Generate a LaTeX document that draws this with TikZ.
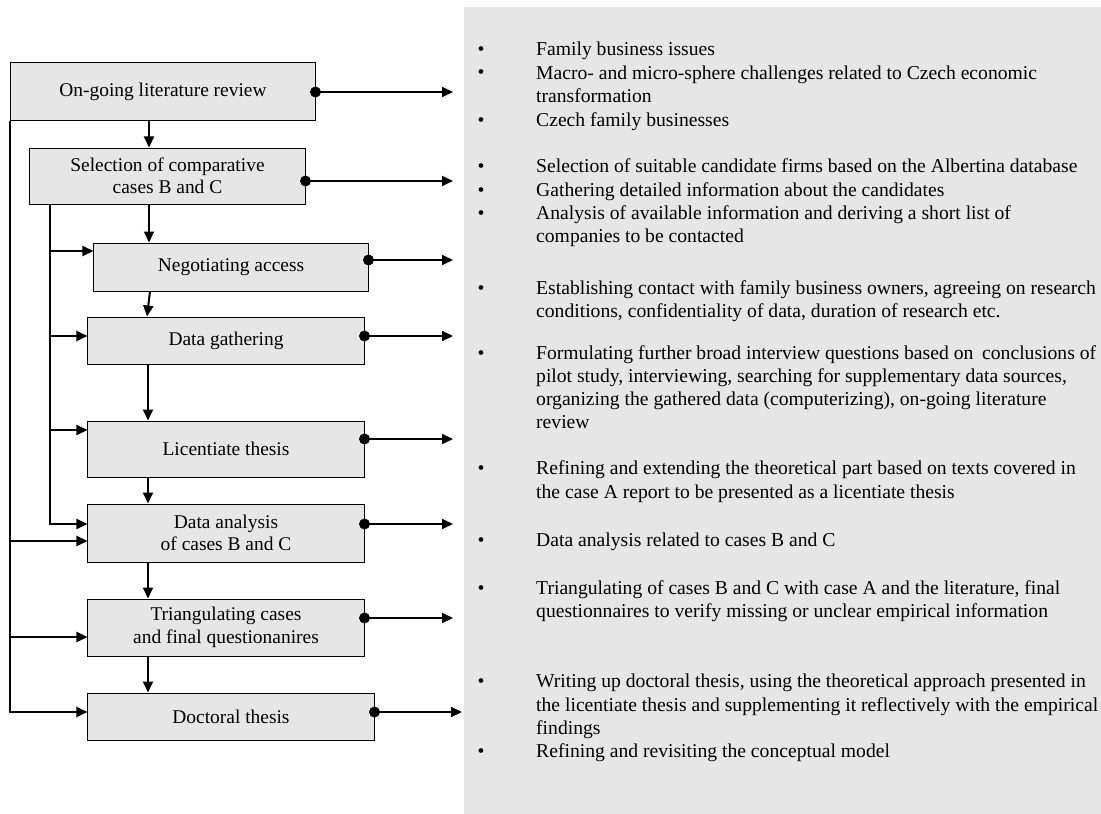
\documentclass[tikz,border=0pt]{standalone}
\usepackage{fontspec}
\setmainfont{Liberation Serif}
\usetikzlibrary{arrows.meta}
\definecolor{boxgrey}{RGB}{230,230,230}
\definecolor{panelgrey}{RGB}{230,230,230}

\begin{document}
\begin{tikzpicture}[x=1bp,y=-1bp,
  stage/.style={draw=black, line width=1bp, fill=boxgrey, inner sep=0pt,
    align=center, font=\fontsize{19.5}{22.5}\selectfont},
  flow/.style={line width=2bp, -{Triangle[length=11bp,width=10bp]}},
  dot/.style={circle, fill=black, inner sep=0pt, minimum size=11bp},
  itemtext/.style={anchor=base west, inner sep=0pt, align=left,
    font=\fontsize{19.7}{23.3}\selectfont},
  bullet/.style={anchor=base, inner sep=0pt, font=\fontsize{19.7}{23.3}\selectfont},
]
\useasboundingbox (0,0) rectangle (1101,814);

% description panel
\fill[panelgrey] (464,7) rectangle (1101,814);

% process stages
\node[stage, minimum width=304bp, minimum height=57bp] (lit) at (163,91.5) {On-going literature review};
\node[stage, minimum width=275bp, minimum height=56bp] (sel) at (167.5,176) {Selection of comparative\\cases B and C};
\node[stage, minimum width=274bp, minimum height=48bp] (neg) at (231,267) {Negotiating access};
\node[stage, minimum width=276bp, minimum height=47bp] (gat) at (226,340.5) {Data gathering};
\node[stage, minimum width=276bp, minimum height=56bp] (lic) at (226,449) {Licentiate thesis};
\node[stage, minimum width=276bp, minimum height=58bp] (ana) at (226,533) {Data analysis\\of cases B and C};
\node[stage, minimum width=276bp, minimum height=57bp] (tri) at (226,627.5) {Triangulating cases\\and final questionanires};
\node[stage, minimum width=286bp, minimum height=47bp] (doc) at (231,716.5) {Doctoral thesis};

% spine of the main sequence
\coordinate (spineA) at (149,0);
\coordinate (spineB) at (150,0);
\coordinate (spineC) at (147,0);
\coordinate (spineD) at (148,0);

\draw[flow] (lit.south -| spineA) -- (sel.north -| spineA);
\draw[flow] (sel.south -| spineA) -- (neg.north -| spineA);
\draw[flow] (neg.south -| spineB) -- (gat.north -| spineC);
\draw[flow] (gat.south -| spineD) -- (lic.north -| spineD);
\draw[flow] (lic.south -| spineD) -- (ana.north -| spineD);
\draw[flow] (ana.south -| spineD) -- (tri.north -| spineD);
\draw[flow] (tri.south -| spineD) -- (doc.north -| spineD);

% outer feedback line from the literature review
\coordinate (o6) at (11,541);
\coordinate (o7) at (11,637);
\coordinate (o8) at (11,712);
\draw[flow] (lit.south west) |- (doc.west |- o8);
\draw[flow] (o6) -- (ana.west |- o6);
\draw[flow] (o7) -- (tri.west |- o7);

% inner feedback line from the case selection
\coordinate (i3) at (50,251);
\coordinate (i4) at (50,336);
\coordinate (i5) at (50,430);
\coordinate (i6) at (50,524);
\draw[flow] (sel.south -| i6) |- (ana.west |- i6);
\draw[flow] (i3) -- (neg.west |- i3);
\draw[flow] (i4) -- (gat.west |- i4);
\draw[flow] (i5) -- (lic.west |- i5);

% outputs towards the description panel
\coordinate (t1) at (453,92);
\coordinate (t2) at (453,181);
\coordinate (t3) at (453,260);
\coordinate (t4) at (453,336);
\coordinate (t5) at (453,439);
\coordinate (t6) at (453,524);
\coordinate (t7) at (453,618);
\coordinate (t8) at (462,712);
\foreach \s/\t [count=\k] in {lit/t1, sel/t2, neg/t3, gat/t4, lic/t5, ana/t6, tri/t7, doc/t8}{
  \draw[flow] (\s.east |- \t) -- (\t);
  \node[dot] (d\k) at (\s.east |- \t) {};
}

% descriptions: bullet on the first baseline, text block anchored on its last baseline
\foreach \yb/\yl/\txt [count=\k] in {
  56/56/{Family business issues},
  79/102.3/{Macro- and micro-sphere challenges related to Czech economic\\transformation},
  126/126/{Czech family businesses},
  172.3/172.3/{Selection of suitable candidate firms based on the Albertina database},
  196/196/{Gathering detailed information about the candidates},
  219/242.3/{Analysis of available information and deriving a short list of\\companies to be contacted},
  294.4/317.7/{Establishing contact with family business owners, agreeing on research\\conditions, confidentiality of data, duration of research etc.},
  359/428.9/{Formulating further broad interview questions based on\hspace{0.45em}conclusions of\\pilot study, interviewing, searching for supplementary data sources,\\organizing the gathered data (computerizing), on-going literature\\review},
  474.7/498/{Refining and extending the theoretical part based on texts covered in\\the case A report to be presented as a licentiate thesis},
  546/546/{Data analysis related to cases B and C},
  594.3/617.6/{Triangulating of cases B and C with case A and the literature, final\\questionnaires to verify missing or unclear empirical information},
  687.7/734.3/{Writing up doctoral thesis, using the theoretical approach presented in\\the licentiate thesis and supplementing it reflectively with the empirical\\findings},
  757.3/757.3/{Refining and revisiting the conceptual model}}{
  \node[bullet] (b\k) at (481,\yb) {•};
  \node[itemtext] (n\k) at (536,\yl) {\txt};
}
\end{tikzpicture}
\end{document}
